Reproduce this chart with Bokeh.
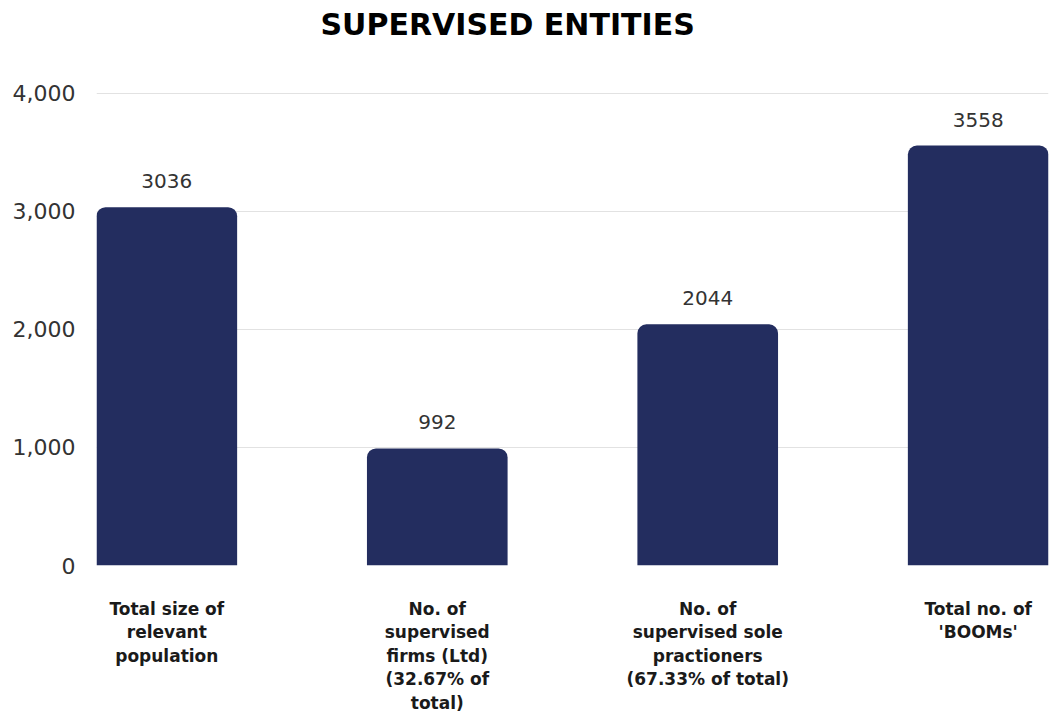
from bokeh.plotting import figure
from bokeh.models import Range1d, FixedTicker, NumeralTickFormatter, ColumnDataSource
from bokeh.core.properties import value
from bokeh.embed import file_html
from bokeh.resources import INLINE

categories = [
    "Total size of\nrelevant\npopulation",
    "No. of\nsupervised\nfirms (Ltd)\n(32.67% of\ntotal)",
    "No. of\nsupervised sole\npractioners\n(67.33% of total)",
    "Total no. of\n'BOOMs'",
]
values = [3036, 992, 2044, 3558]
y_ticks = [0, 1000, 2000, 3000, 4000]

xs = list(range(len(categories)))
src = ColumnDataSource(dict(x=xs, top=values, label=[str(v) for v in values]))

# frame extends above the 4,000 gridline so the title sits at the very top
Y_END = 4406

p = figure(width=1050, height=716, output_backend="svg", toolbar_location=None,
           x_range=Range1d(-0.26, len(categories) - 1 + 0.26), y_range=Range1d(0, Y_END),
           min_border_left=96, min_border_right=2, min_border_top=44, min_border_bottom=151)
p.outline_line_color = None
p.background_fill_color = "white"
p.border_fill_color = "white"

p.vbar(x="x", top="top", width=0.52, source=src, fill_color="#232D5F",
       line_color=None, border_radius=(9, 9, 0, 0))
p.text(x="x", y="top", text="label", source=src, text_align="center",
       text_baseline="alphabetic", y_offset=-26, text_font_size="20px",
       text_font=value("DejaVu Sans"), text_color="#333333")

# title
p.title.text = "SUPERVISED ENTITIES"
p.title.text_font = "DejaVu Sans"
p.title.text_font_style = "bold"
p.title.text_font_size = "30px"
p.title.text_color = "#000000"
p.title.align = "left"
p.title.offset = 224
p.title.standoff = 8

# y axis
p.yaxis.ticker = FixedTicker(ticks=y_ticks)
p.yaxis.formatter = NumeralTickFormatter(format="0,0")
p.yaxis.axis_line_color = None
p.yaxis.major_tick_line_color = None
p.yaxis.minor_tick_line_color = None
p.yaxis.major_label_standoff = 15
p.yaxis.major_label_text_font = "DejaVu Sans"
p.yaxis.major_label_text_font_size = "22px"
p.yaxis.major_label_text_color = "#333333"

# x axis
p.xaxis.ticker = FixedTicker(ticks=xs)
p.xaxis.major_label_overrides = {i: c for i, c in zip(xs, categories)}
p.xaxis.axis_line_color = None
p.xaxis.major_tick_line_color = None
p.xaxis.minor_tick_line_color = None
p.xaxis.major_label_standoff = 27
p.xaxis.major_label_text_font = "DejaVu Sans"
p.xaxis.major_label_text_font_style = "bold"
p.xaxis.major_label_text_font_size = "17px"
p.xaxis.major_label_text_color = "#1a1a1a"
p.xaxis.major_label_text_line_height = 1.18

p.xgrid.grid_line_color = None
p.ygrid.grid_line_color = "#e2e2e2"
p.ygrid.grid_line_width = 1

open("out.html", "w").write(file_html(p, INLINE))
